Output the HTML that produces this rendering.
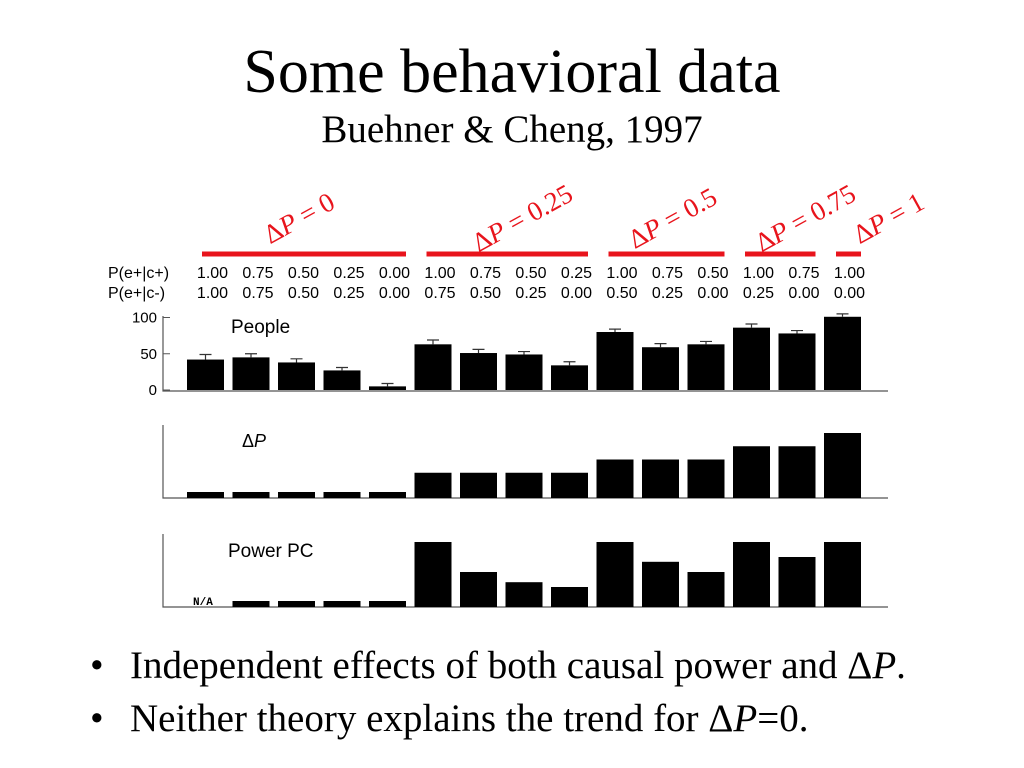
<!DOCTYPE html>
<html><head><meta charset="utf-8"><style>
html,body{margin:0;padding:0;background:#fff}
svg{display:block}
.s{font-family:"Liberation Serif",serif}
.a{font-family:"Liberation Sans",sans-serif}
</style></head><body>
<svg id="c" width="1024" height="768" viewBox="0 0 1024 768" xmlns="http://www.w3.org/2000/svg">
<text class="s" x="512" y="92" font-size="62" text-anchor="middle">Some behavioral data</text>
<text class="s" x="512" y="142" font-size="39" text-anchor="middle">Buehner &amp; Cheng, 1997</text>
<text class="a" x="108" y="278" font-size="16">P(e+|c+)</text>
<text class="a" x="108" y="298" font-size="16">P(e+|c-)</text>
<text class="a" x="231" y="333" font-size="19">People</text>
<text class="a" x="242" y="447" font-size="18">Δ<tspan font-style="italic">P</tspan></text>
<text class="a" x="228" y="557" font-size="19">Power PC</text>
<text x="193" y="605" font-size="11" font-weight="bold" font-family="Liberation Mono,monospace">N/A</text>
<text class="s" font-size="39" x="90" y="678">•<tspan x="130">Independent effects of both causal power and Δ<tspan font-style="italic">P</tspan>.</tspan></text>
<text class="s" font-size="39" x="90" y="731">•<tspan x="130">Neither theory explains the trend for Δ<tspan font-style="italic">P</tspan>=0.</tspan></text>
<g id="g"></g>
</svg>
<script>
const pcPlus=["1.00","0.75","0.50","0.25","0.00","1.00","0.75","0.50","0.25","1.00","0.75","0.50","1.00","0.75","1.00"];
const pcMinus=["1.00","0.75","0.50","0.25","0.00","0.75","0.50","0.25","0.00","0.50","0.25","0.00","0.25","0.00","0.00"];
const people=[42,45,38,27,5,63,51,49,34,80,59,63,86,78,101];
const peopleErr=[7,5,5,4,4,6,5,4,5,4,5,4,5,4,4];
const deltaP=[0,0,0,0,0,0.25,0.25,0.25,0.25,0.5,0.5,0.5,0.75,0.75,1];
const powerPC=[null,0,0,0,0,1,0.5,0.33,0.25,1,0.67,0.5,1,0.75,1];
const groupLabels=["0","0.25","0.5","0.75","1"];
const groupStart=[0,5,9,12,14];
const groupEnd=[4,8,11,13,14];
const peopleTicks=[0,50,100];

const NS="http://www.w3.org/2000/svg";
const g=document.getElementById('g');
function mk(t,a){const e=document.createElementNS(NS,t);for(const k in a)e.setAttribute(k,a[k]);g.appendChild(e);return e;}
const bx=i=>187+i*45.5, bw=37;
const yPeople=v=>390-v*0.725;
const hDP=v=>v>0?12+53*v:6;
const hPow=v=>5+60*v;
const labelShift=[-5,15,6,25,40];

groupLabels.forEach((l,k)=>{
  const x1=bx(groupStart[k])+(k==0?15:12), x2=bx(groupEnd[k])+bw;
  const ln=mk('line',{x1:x1,x2:x2,y1:254,y2:254,stroke:'#e8141c','stroke-width':5});
  
  
  const cx=(x1+x2)/2+labelShift[k];
  const t=mk('text',{x:cx,y:227,'font-size':27,fill:'#e8141c','text-anchor':'middle','font-family':'Liberation Serif,serif',transform:`rotate(-29 ${cx} 218)`});
  t.innerHTML='Δ<tspan font-style="italic">P</tspan> = '+l;
  
  
});
pcPlus.forEach((v,i)=>{
  const c=bx(i)+bw/2+7;
  const t1=mk('text',{x:c,y:278,'font-size':16,'text-anchor':'middle','font-family':'Liberation Sans,sans-serif'});t1.textContent=v;
  
  
  const t2=mk('text',{x:c,y:298,'font-size':16,'text-anchor':'middle','font-family':'Liberation Sans,sans-serif'});t2.textContent=pcMinus[i];
  
  
});
[[163,316,163,391,888,391],[163,425,163,498,888,498],[163,534,163,607,888,607]].forEach((a,k)=>{
  const p=mk('path',{d:`M${a[0]} ${a[1]}V${a[3]}H${a[4]}`,fill:'none',stroke:'#555','stroke-width':1.2});
  
  
});
peopleTicks.forEach(v=>{
  const y=yPeople(v);
  const tk=mk('line',{x1:163,x2:170,y1:y,y2:y,stroke:'#555'});
  
  
  const t=mk('text',{x:157,y:y+5,'font-size':15,'text-anchor':'end','font-family':'Liberation Sans,sans-serif'});t.textContent=v;
  
  
});
people.forEach((v,i)=>{
  const y=yPeople(v);
  const r=mk('rect',{x:bx(i),y:y,width:bw,height:390-y,fill:'#000'});
  
  
  const c=bx(i)+bw/2, ye=yPeople(v+peopleErr[i]);
  const e=mk('path',{d:`M${c} ${y}V${ye}M${c-6} ${ye}H${c+6}`,stroke:'#333','stroke-width':1.2,fill:'none'});
  
  
});
deltaP.forEach((v,i)=>{
  const h=hDP(v);
  const r=mk('rect',{x:bx(i),y:498-h,width:bw,height:h,fill:'#000'});
  
  
});
powerPC.forEach((v,i)=>{
  if(v===null)return;
  const h=v>0?hPow(v):6;
  const r=mk('rect',{x:bx(i),y:607-h,width:bw,height:h,fill:'#000'});
  
  
});
</script>
</body></html>
